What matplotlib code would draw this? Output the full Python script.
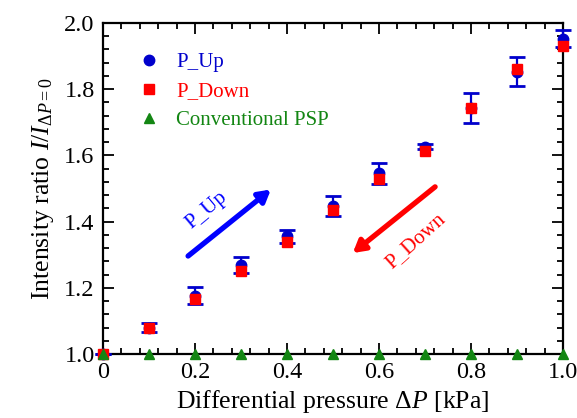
import matplotlib
matplotlib.use("Agg")
import matplotlib.pyplot as plt
from matplotlib.ticker import MultipleLocator, FuncFormatter
from matplotlib.lines import Line2D

plt.rcParams['font.family'] = ['Liberation Serif', 'DejaVu Serif']
plt.rcParams['mathtext.fontset'] = 'custom'
plt.rcParams['mathtext.rm'] = 'Liberation Serif'
plt.rcParams['mathtext.it'] = 'Liberation Serif:italic'

# Data
dp = [0.0, 0.1, 0.2, 0.3, 0.4, 0.5, 0.6, 0.7, 0.8, 0.9, 1.0]
p_up = [1.0, 1.08, 1.176, 1.27, 1.355, 1.448, 1.546, 1.626, 1.742, 1.853, 1.953]
p_up_err = [0.0, 0.013, 0.025, 0.024, 0.019, 0.03, 0.032, 0.008, 0.045, 0.043, 0.025]
p_down = [1.0, 1.08, 1.166, 1.251, 1.339, 1.435, 1.529, 1.613, 1.742, 1.86, 1.929]
conv_psp = [1.0, 1.0, 1.0, 1.0, 1.0, 1.0, 1.0, 1.0, 1.0, 1.0, 1.0]
series_labels = ['P_Up', 'P_Down', 'Conventional PSP']

blue = '#0000CC'
red = '#FF0000'
green = '#138613'

fig = plt.figure(figsize=(5.77, 4.18), dpi=100)
ax = fig.add_axes([0.1785, 0.1531, 0.7972, 0.7919])

ax.errorbar(dp, p_up, yerr=p_up_err, fmt='o', color=blue, ms=7.5, ecolor=blue,
            elinewidth=1.6, capsize=5.5, capthick=2, clip_on=False, zorder=3)
ax.plot(dp, p_down, 's', color=red, ms=6.8, clip_on=False, zorder=4)
ax.plot(dp, conv_psp, '^', color=green, ms=7.5, clip_on=False, zorder=5)

ax.set_xlim(0, 1.0)
ax.set_ylim(1.0, 2.0)
ax.xaxis.set_major_locator(MultipleLocator(0.2))
ax.xaxis.set_minor_locator(MultipleLocator(0.04))
ax.yaxis.set_major_locator(MultipleLocator(0.2))
ax.yaxis.set_minor_locator(MultipleLocator(0.04))
ax.xaxis.set_major_formatter(FuncFormatter(lambda v, p: '0' if abs(v) < 1e-9 else f'{v:.1f}'))
ax.yaxis.set_major_formatter(FuncFormatter(lambda v, p: f'{v:.1f}'))
ax.tick_params(which='both', direction='in', top=True, right=True, labelsize=17.5, width=1.3, pad=6)
ax.tick_params(which='major', length=8)
ax.tick_params(which='minor', length=4.5)
for s in ax.spines.values():
    s.set_linewidth(1.6)

ax.set_xlabel(r'Differential pressure $\Delta P$ [kPa]', fontsize=18.5, labelpad=3)
ax.set_ylabel(r'Intensity ratio $I/I_{\Delta P=0}$', fontsize=18.5, labelpad=6)

handles = [
    Line2D([], [], ls='none', marker='o', color=blue, ms=7.5),
    Line2D([], [], ls='none', marker='s', color=red, ms=6.8),
    Line2D([], [], ls='none', marker='^', color=green, ms=7.5),
]
leg = ax.legend(handles, series_labels, loc='upper left', bbox_to_anchor=(0.06, 0.935), frameon=False,
                fontsize=15, handletextpad=0.8, labelspacing=0.45, handlelength=1.0, borderaxespad=0)
for t, c in zip(leg.get_texts(), [blue, red, green]):
    t.set_color(c)

ax.annotate('', xy=(0.365, 1.497), xytext=(0.185, 1.296),
            arrowprops=dict(arrowstyle='-|>,head_length=0.7,head_width=0.4', color='#0000FF', lw=3.8,
                            shrinkA=0, shrinkB=0))
ax.annotate('', xy=(0.543, 1.305), xytext=(0.722, 1.505),
            arrowprops=dict(arrowstyle='-|>,head_length=0.7,head_width=0.4', color='#FF0000', lw=3.8,
                            shrinkA=0, shrinkB=0))
ax.text(0.225, 1.435, 'P_Up', color='#0000FF', fontsize=15, rotation=40, ha='center', va='center')
ax.text(0.68, 1.34, 'P_Down', color='#FF0000', fontsize=15, rotation=42, ha='center', va='center')

fig.savefig('out.png', dpi=100)
